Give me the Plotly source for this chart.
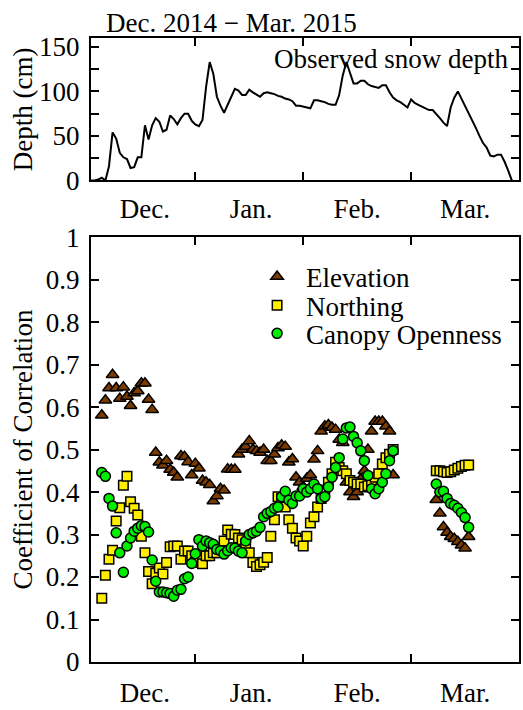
import plotly.graph_objects as go

# ---------------- data ----------------
# day index of the season (x axis), month labels
month_labels = ["Dec.", "Jan.", "Feb.", "Mar."]
month_label_pos = [16, 45.5, 75, 105]
month_bounds = [30, 60, 90]

depth_days = list(range(1, 119))
depth_cm = [0, 0, 1, 3, 0, 16, 54, 47, 31, 26, 24, 14, 15, 26, 26, 62, 46, 62, 70, 66,
            55, 57, 73, 69, 63, 70, 75, 75, 67, 63, 61, 68, 105, 133, 120, 94, 84, 76, 85, 94,
            103, 101, 96, 96, 102, 99, 96, 94, 98, 99, 98, 97, 95, 94, 92, 91, 89, 84, 84, 83,
            82, 81, 90, 90, 89, 88, 86, 85, 85, 96, 118, 133, 121, 109, 109, 112, 112, 108, 106, 105,
            104, 107, 107, 99, 93, 90, 88, 85, 82, 91, 87, 85, 83, 81, 79, 79, 75, 70, 65, 61,
            82, 93, 100, 92, 84, 76, 67, 59, 50, 42, 37, 28, 27, 29, 29, 21, 11, 0]

corr_days = list(range(4, 86)) + list(range(97, 107))

elevation = [0.581, 0.616, 0.645, 0.676, 0.645, 0.620, 0.647, 0.625, 0.603, 0.633,
             0.638, 0.656, 0.656, 0.618, 0.594, 0.493, 0.470, 0.463, 0.474, 0.453,
             0.446, 0.435, 0.485, 0.483, 0.471, 0.440, 0.467, 0.456, 0.427, 0.423,
             0.417, 0.379, 0.391, 0.408, 0.404, 0.454, 0.453, 0.453, 0.489, 0.500,
             0.507, 0.520, 0.500, 0.497, 0.493, 0.500, 0.474, 0.474, 0.489, 0.504,
             0.510, 0.507, 0.470, 0.478, 0.435, 0.423, 0.412, 0.432, 0.440, 0.477,
             0.497, 0.543, 0.555, 0.558, 0.552, 0.547, 0.524, 0.516, 0.423, 0.400,
             0.389, 0.400, 0.430, 0.450, 0.500, 0.543, 0.566, 0.566, 0.566, 0.555,
             0.543, 0.440,
             0.382, 0.350, 0.318, 0.305, 0.295, 0.290, 0.283, 0.275, 0.268, 0.295]

northing = [0.150, 0.204, 0.242, 0.263, 0.332, 0.363, 0.416, 0.437, 0.377, 0.362,
            0.346, 0.296, 0.257, 0.213, 0.184, 0.209, 0.221, 0.207, 0.234, 0.271,
            0.273, 0.273, 0.242, 0.261, 0.261, 0.250, 0.234, 0.240, 0.231, 0.250,
            0.250, 0.257, 0.257, 0.269, 0.285, 0.311, 0.301, 0.300, 0.292, 0.288,
            0.277, 0.257, 0.234, 0.225, 0.229, 0.235, 0.246, 0.296, 0.335, 0.389,
            0.385, 0.365, 0.335, 0.315, 0.292, 0.285, 0.273, 0.296, 0.327, 0.342,
            0.365, 0.385, 0.404, 0.423, 0.443, 0.470, 0.458, 0.450, 0.443, 0.427,
            0.423, 0.419, 0.419, 0.412, 0.415, 0.419, 0.435, 0.443, 0.466, 0.481,
            0.489, 0.500,
            0.450, 0.450, 0.448, 0.446, 0.448, 0.452, 0.456, 0.460, 0.463, 0.464]

canopy = [0.446, 0.437, 0.385, 0.367, 0.304, 0.257, 0.211, 0.273, 0.292, 0.308,
          0.315, 0.321, 0.319, 0.306, 0.240, 0.190, 0.165, 0.165, 0.163, 0.161,
          0.155, 0.169, 0.171, 0.196, 0.200, 0.232, 0.255, 0.288, 0.273, 0.285,
          0.281, 0.277, 0.265, 0.262, 0.254, 0.262, 0.269, 0.268, 0.261, 0.257,
          0.285, 0.300, 0.304, 0.308, 0.317, 0.342, 0.350, 0.354, 0.362, 0.365,
          0.389, 0.402, 0.381, 0.373, 0.391, 0.391, 0.408, 0.400, 0.408, 0.419,
          0.408, 0.385, 0.389, 0.412, 0.435, 0.458, 0.481, 0.525, 0.551, 0.553,
          0.531, 0.516, 0.497, 0.474, 0.439, 0.408, 0.396, 0.408, 0.423, 0.443,
          0.474, 0.497,
          0.419, 0.400, 0.402, 0.385, 0.373, 0.369, 0.362, 0.352, 0.340, 0.317]

# ---------------- figure ----------------
FONT = "Liberation Serif"
FS = 27

fig = go.Figure()

fig.add_trace(go.Scatter(x=depth_days, y=depth_cm, mode="lines",
                         line=dict(color="black", width=2),
                         xaxis="x2", yaxis="y2", showlegend=False))

series = [
    ("Elevation", elevation, "triangle-up", "#7A3A00", 11, "legend"),
    ("Northing", northing, "square", "#FFEE00", 9.5, "legend2"),
    ("Canopy Openness", canopy, "circle", "#00EE00", 10, "legend3"),
]
for name, vals, sym, col, sz, lg in series:
    fig.add_trace(go.Scatter(x=corr_days, y=vals, mode="markers", name=name,
                             marker=dict(symbol=sym, color=col, size=sz,
                                         line=dict(color="black", width=1.5)),
                             xaxis="x", yaxis="y", legend=lg))

axis_common = dict(showline=True, linewidth=2, linecolor="black", mirror="ticks",
                   showgrid=False, zeroline=False,
                   tickfont=dict(family=FONT, size=FS, color="black"),
                   tickcolor="black", tickwidth=2)

xcommon = dict(axis_common, range=[1, 120], tickmode="array",
               tickvals=month_label_pos, ticktext=month_labels, ticks="",
               ticklabelstandoff=6,
               minor=dict(tickmode="array", tickvals=month_bounds, ticks="inside",
                          ticklen=8, tickwidth=2, tickcolor="black"))

fig.update_layout(
    width=523, height=710,
    margin=dict(l=91, r=1.5, t=38, b=37),
    paper_bgcolor="white", plot_bgcolor="white",
    font=dict(family=FONT, size=FS, color="black"),
    xaxis=dict(xcommon, domain=[0, 1], anchor="y"),
    yaxis=dict(axis_common, domain=[0, 0.6808], anchor="x", range=[0, 1],
               tickmode="linear", tick0=0, dtick=0.1, ticks="inside", ticklen=8,
               ticklabelstandoff=4),
    xaxis2=dict(xcommon, domain=[0, 1], anchor="y2", ticklabelstandoff=3),
    yaxis2=dict(axis_common, domain=[0.7717, 1], anchor="x2", range=[0, 160],
                tickmode="array", tickvals=[0, 50, 100, 150], ticks="inside", ticklen=8,
                ticklabelstandoff=4,
                minor=dict(tickmode="array", tickvals=[25, 75, 125], ticks="inside",
                           ticklen=8, tickwidth=2, tickcolor="black")),
    showlegend=True,
)

leg_common = dict(xanchor="left", yanchor="middle", x=0.367, bgcolor="rgba(0,0,0,0)",
                  font=dict(family=FONT, size=FS, color="black"), itemwidth=48,
                  itemsizing="trace")
fig.update_layout(legend=dict(leg_common, y=0.617),
                  legend2=dict(leg_common, y=0.571),
                  legend3=dict(leg_common, y=0.526))

fig.add_annotation(text="Dec. 2014 \u2212 Mar. 2015", xref="paper", yref="paper",
                   x=0.030, y=1.024, xanchor="left", yanchor="middle", showarrow=False,
                   font=dict(family=FONT, size=FS, color="black"))
fig.add_annotation(text="Observed snow depth", xref="paper", yref="paper",
                   x=0.978, y=0.967, xanchor="right", yanchor="middle", showarrow=False,
                   font=dict(family=FONT, size=FS, color="black"))
fig.add_annotation(text="Depth (cm)", xref="paper", yref="paper", textangle=-90,
                   x=-0.159, y=0.8858, xanchor="center", yanchor="middle", showarrow=False,
                   font=dict(family=FONT, size=FS, color="black"))
fig.add_annotation(text="Coefficient of Correlation", xref="paper", yref="paper",
                   textangle=-90, x=-0.159, y=0.3404, xanchor="center", yanchor="middle",
                   showarrow=False, font=dict(family=FONT, size=FS, color="black"))

fig.write_html("out.html", config={"displayModeBar": False},
               post_script="document.body.style.margin='0';document.body.style.overflow='hidden';")
